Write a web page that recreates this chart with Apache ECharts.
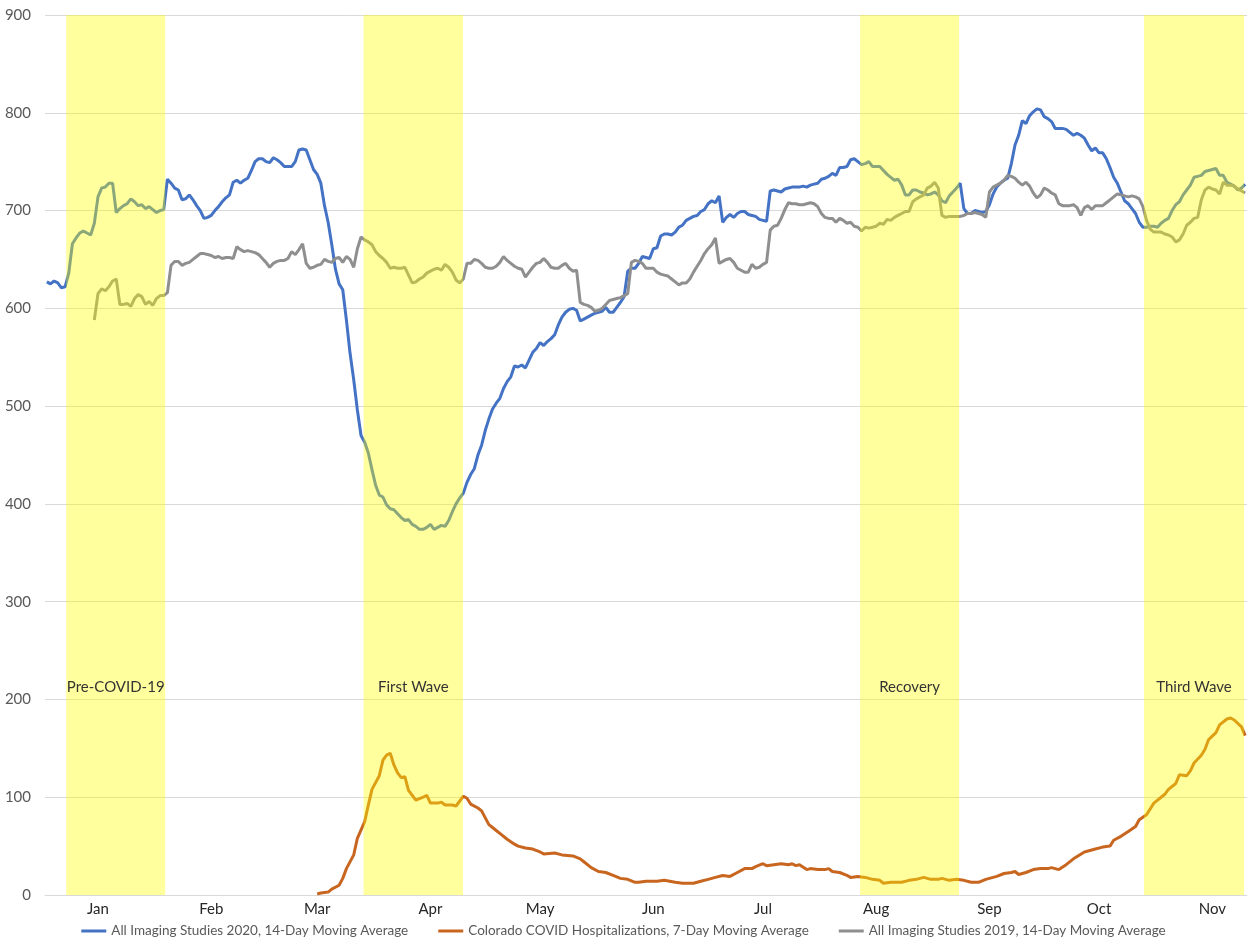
<!DOCTYPE html>
<html>
<head>
<meta charset="utf-8">
<title>Imaging Studies and COVID Hospitalizations, 2020</title>
<script src="https://cdn.jsdelivr.net/npm/echarts@6/dist/echarts.min.js"></script>
<style>
  html, body { margin: 0; padding: 0; background: #ffffff; }
  #chart { width: 1247px; height: 942px; }
</style>
</head>
<body>
<div id="chart"></div>
<script>
// x values are day-of-year in 2020 (Jan 1 = 0)
const monthNames = ['Jan', 'Feb', 'Mar', 'Apr', 'May', 'Jun', 'Jul', 'Aug', 'Sep', 'Oct', 'Nov'];
const monthMidDays = [14, 45, 74, 105, 135, 166, 196, 227, 258, 288, 319];
const yTicks = [0, 100, 200, 300, 400, 500, 600, 700, 800, 900];

// All imaging studies 2020, 14-day moving average, one value per day from Jan 1
const imaging2020 = [
  627, 625, 628, 626, 621, 622, 636, 666, 672, 677,
  679, 677, 675, 687, 714, 723, 724, 728, 728, 698,
  702, 705, 707, 712, 709, 705, 706, 702, 704, 701,
  698, 700, 701, 732, 728, 723, 721, 711, 712, 716,
  711, 705, 700, 692, 693, 695, 700, 704, 709, 713,
  716, 729, 731, 728, 731, 733, 741, 750, 753, 753,
  750, 749, 754, 752, 749, 745, 745, 745, 750, 762,
  763, 762, 752, 742, 737, 728, 705, 688, 665, 640,
  625, 619, 588, 554, 527, 496, 470, 463, 452, 435,
  419, 409, 407, 399, 395, 394, 390, 386, 383, 384,
  379, 377, 374, 374, 376, 379, 374, 376, 378, 377,
  383, 392, 400, 406, 411, 422, 430, 436, 450, 460,
  475, 487, 497, 503, 508, 518, 525, 530, 541, 540,
  542, 539, 547, 555, 559, 565, 562, 566, 569, 573,
  583, 591, 596, 599, 600, 598, 587, 589, 591, 593,
  595, 596, 597, 601, 596, 596, 601, 606, 612, 638,
  641, 641, 646, 653, 652, 651, 661, 662, 674, 676,
  676, 675, 678, 683, 685, 690, 692, 694, 695, 699,
  701, 707, 710, 708, 715, 688, 693, 696, 693, 697,
  699, 699, 696, 695, 694, 691, 690, 689, 720, 721,
  720, 719, 722, 723, 724, 724, 724, 725, 724, 726,
  727, 728, 732, 733, 735, 738, 736, 744, 744, 745,
  752, 753, 750, 747, 748, 750, 745, 745, 745, 741,
  737, 734, 731, 732, 726, 716, 716, 721, 721, 719,
  718, 716, 717, 719, 716, 710, 708, 715, 719, 723,
  728, 702, 697, 697, 700, 699, 698, 699, 706, 717,
  724, 728, 731, 733, 748, 767, 777, 792, 789, 797,
  801, 804, 803, 796, 794, 791, 784, 784, 784, 783,
  780, 777, 779, 777, 774, 767, 761, 764, 759, 759,
  753, 744, 734, 728, 719, 710, 707, 702, 697, 688,
  683, 683, 684, 684, 683, 687, 690, 692, 700, 706,
  709, 716, 721, 726, 734, 735, 736, 740, 741, 742,
  743, 736, 736, 729, 727, 725, 721, 723, 727
];

// All imaging studies 2019, 14-day moving average, one value per day from Jan 14
const imaging2019StartDay = 13;
const imaging2019 = [
  588, 615, 620, 618, 622, 628, 630,
  604, 604, 605, 602, 610, 614, 612, 604, 607, 603,
  610, 613, 613, 616, 644, 648, 648, 644, 646, 647,
  650, 653, 656, 656, 655, 654, 652, 653, 651, 652,
  652, 651, 663, 660, 658, 659, 658, 657, 655, 651,
  647, 642, 646, 648, 649, 649, 651, 658, 655, 660,
  666, 646, 641, 642, 644, 645, 650, 648, 647, 651,
  652, 647, 653, 650, 642, 661, 673, 670, 668, 665,
  658, 654, 651, 647, 641, 642, 641, 641, 642, 634,
  626, 627, 630, 632, 636, 638, 640, 641, 639, 645,
  642, 637, 629, 626, 630, 646, 646, 650, 649, 646,
  642, 641, 641, 643, 647, 653, 649, 646, 643, 641,
  640, 632, 637, 642, 646, 647, 651, 647, 642, 641,
  641, 644, 646, 641, 638, 639, 606, 604, 603, 601,
  597, 598, 600, 604, 608, 609, 610, 611, 613, 615,
  647, 649, 648, 646, 641, 641, 641, 637, 635, 634,
  633, 630, 627, 624, 626, 626, 630, 637, 643, 649,
  656, 661, 665, 672, 646, 648, 650, 651, 647, 641,
  639, 637, 637, 645, 641, 642, 645, 647, 680, 684,
  685, 692, 701, 708, 707, 707, 706, 706, 707, 708,
  707, 704, 697, 693, 692, 692, 688, 692, 690, 687,
  688, 684, 683, 679, 683, 682, 683, 684, 687, 686,
  691, 690, 693, 695, 697, 699, 699, 709, 712, 714,
  716, 723, 725, 729, 723, 695, 693, 694, 694, 694,
  694, 695, 697, 697, 698, 697, 696, 693, 719, 724,
  726, 728, 731, 736, 735, 733, 729, 726, 729, 725,
  718, 713, 716, 723, 721, 718, 716, 707, 705, 705,
  705, 706, 703, 695, 703, 705, 701, 705, 705, 705,
  708, 711, 714, 717, 716, 715, 714, 715, 714, 712,
  704, 690, 681, 678, 678, 678, 676, 675, 673, 668,
  670, 676, 685, 688, 692, 693, 711, 721, 724, 722,
  721, 717, 729, 726, 726, 725, 722, 720, 718
];

// Colorado COVID hospitalizations, 7-day moving average: day-of-year and value
const hospitalDays = [
  74, 75, 77, 78, 80, 81, 82, 84, 85, 87, 88, 89, 91, 92, 93, 94, 95, 96, 97, 98,
  99, 101, 103, 104, 105, 107, 108, 109, 110, 111, 112, 114, 115, 116, 118, 119, 121, 122, 123, 124,
  126, 128, 129, 131, 133, 135, 136, 139, 141, 144, 146, 147, 149, 151, 153, 155, 157, 159, 161, 162,
  164, 167, 169, 172, 174, 177, 179, 181, 183, 185, 187, 189, 191, 193, 194, 196, 197, 199, 201, 203,
  204, 205, 206, 208, 209, 211, 213, 214, 215, 217, 219, 220, 222, 224, 226, 228, 229, 231, 234, 236,
  238, 240, 242, 244, 245, 247, 249, 251, 253, 255, 257, 260, 262, 264, 265, 266, 268, 270, 272, 274,
  275, 277, 279, 281, 284, 285, 287, 289, 291, 292, 294, 296, 298, 299, 301, 302, 303, 305, 306, 307,
  309, 310, 312, 313, 314, 316, 317, 318, 320, 321, 323, 324, 325, 327, 328
];
const hospitalValues = [
  1, 2, 3, 6, 10, 17, 27, 41, 58, 75, 92, 108, 122, 138, 143, 145, 133, 125, 120, 121,
  107, 97, 100, 102, 94, 94, 95, 92, 92, 92, 91, 101, 99, 93, 89, 86, 72, 69, 66, 63,
  57, 52, 50, 48, 47, 44, 42, 43, 41, 40, 37, 34, 28, 24, 23, 20, 17, 16, 13, 13,
  14, 14, 15, 13, 12, 12, 14, 16, 18, 20, 19, 23, 27, 27, 29, 32, 30, 31, 32, 31,
  32, 30, 31, 26, 27, 26, 26, 27, 24, 23, 20, 18, 19, 18, 16, 15, 12, 13, 13, 15,
  16, 18, 16, 16, 17, 15, 16, 15, 13, 13, 16, 19, 22, 23, 24, 21, 23, 26, 27, 27,
  28, 26, 31, 37, 44, 45, 47, 49, 50, 56, 60, 65, 70, 77, 82, 88, 94, 100, 103, 108,
  114, 123, 122, 127, 135, 143, 149, 159, 166, 174, 180, 181, 179, 172, 163
];

// Pandemic phases (day-of-year spans)
const phaseNames = ['Pre-COVID-19', 'First Wave', 'Recovery', 'Third Wave'];
const phaseStart = [5.3, 86.7, 222.6, 300.3];
const phaseEnd = [32.4, 113.9, 249.7, 327.7];

const seriesNames = [
  'All Imaging Studies 2020, 14-Day Moving Average',
  'Colorado COVID Hospitalizations, 7-Day Moving Average',
  'All Imaging Studies 2019, 14-Day Moving Average'
];

const FONT = 'Lato, "Noto Sans", sans-serif';
const Y_MAX = yTicks[yTicks.length - 1];
const PHASE_LABEL_LEVEL = 213;

const data2020 = imaging2020.map((v, i) => [i, v]);
const data2019 = imaging2019.map((v, i) => [imaging2019StartDay + i, v]);
const dataHosp = hospitalDays.map((d, i) => [d, hospitalValues[i]]);
const phaseData = phaseNames.map((n, i) => [phaseStart[i], phaseEnd[i], n]);

const chart = echarts.init(document.getElementById('chart'), null, { renderer: 'canvas' });

chart.setOption({
  animation: false,
  backgroundColor: '#ffffff',
  textStyle: { fontFamily: FONT },
  grid: { left: 45, right: 0, top: 15, bottom: 47, containLabel: false },
  legend: {
    data: seriesNames,
    top: 919,
    left: 'center',
    icon: 'rect',
    itemWidth: 25,
    itemHeight: 3,
    itemGap: 30,
    textStyle: { fontFamily: FONT, fontSize: 13.5, color: '#595959' }
  },
  xAxis: {
    type: 'value',
    min: -0.5,
    max: 328.5,
    axisLine: { show: true, lineStyle: { color: '#d9d9d9', width: 1 } },
    axisTick: { show: false },
    splitLine: { show: false },
    axisLabel: {
      customValues: monthMidDays,
      formatter: v => monthNames[monthMidDays.indexOf(v)] || '',
      color: '#262626',
      fontSize: 15,
      margin: 7,
      fontFamily: FONT
    }
  },
  yAxis: {
    type: 'value',
    min: 0,
    max: Y_MAX,
    interval: 100,
    axisLine: { show: false },
    axisTick: { show: false },
    splitLine: { lineStyle: { color: '#d9d9d9', width: 1 } },
    axisLabel: { color: '#595959', fontSize: 15, margin: 14, fontFamily: FONT }
  },
  series: [
    {
      name: seriesNames[0],
      type: 'line',
      data: data2020,
      showSymbol: false,
      lineStyle: { color: '#4472c4', width: 3 },
      itemStyle: { color: '#4472c4' },
      z: 2
    },
    {
      name: seriesNames[1],
      type: 'line',
      data: dataHosp,
      showSymbol: false,
      lineStyle: { color: '#c8651f', width: 3 },
      itemStyle: { color: '#c8651f' },
      z: 2
    },
    {
      name: seriesNames[2],
      type: 'line',
      data: data2019,
      showSymbol: false,
      lineStyle: { color: '#8f8f8f', width: 3 },
      itemStyle: { color: '#8f8f8f' },
      z: 2
    },
    {
      // translucent phase bands laid over the lines, with their titles
      type: 'custom',
      data: phaseData,
      encode: { x: [0, 1] },
      z: 5,
      silent: true,
      renderItem: (params, api) => {
        const p0 = api.coord([api.value(0), Y_MAX]);
        const p1 = api.coord([api.value(1), 0]);
        const labelY = api.coord([api.value(0), PHASE_LABEL_LEVEL])[1];
        return {
          type: 'group',
          children: [
            {
              type: 'rect',
              shape: { x: p0[0], y: p0[1], width: p1[0] - p0[0], height: p1[1] - p0[1] },
              style: { fill: 'rgba(255, 255, 0, 0.38)' }
            },
            {
              type: 'text',
              style: {
                text: phaseNames[params.dataIndex],
                x: (p0[0] + p1[0]) / 2,
                y: labelY,
                align: 'center',
                verticalAlign: 'middle',
                fill: '#333333',
                font: '15px ' + FONT
              }
            }
          ]
        };
      }
    }
  ]
});
</script>
</body>
</html>
